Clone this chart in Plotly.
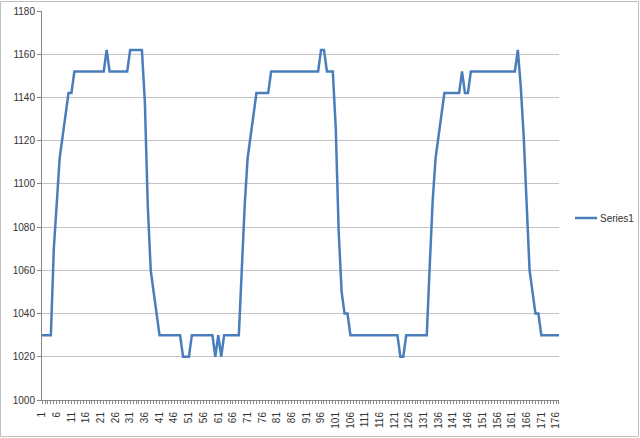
import plotly.graph_objects as go

categories = list(range(1, 178))

series1 = [
    1030, 1030, 1030, 1030, 1070, 1092, 1112, 1122, 1132, 1142,
    1142, 1152, 1152, 1152, 1152, 1152, 1152, 1152, 1152, 1152,
    1152, 1152, 1162, 1152, 1152, 1152, 1152, 1152, 1152, 1152,
    1162, 1162, 1162, 1162, 1162, 1138, 1090, 1060, 1050, 1040,
    1030, 1030, 1030, 1030, 1030, 1030, 1030, 1030, 1020, 1020,
    1020, 1030, 1030, 1030, 1030, 1030, 1030, 1030, 1030, 1020,
    1030, 1020, 1030, 1030, 1030, 1030, 1030, 1030, 1060, 1090,
    1112, 1122, 1132, 1142, 1142, 1142, 1142, 1142, 1152, 1152,
    1152, 1152, 1152, 1152, 1152, 1152, 1152, 1152, 1152, 1152,
    1152, 1152, 1152, 1152, 1152, 1162, 1162, 1152, 1152, 1152,
    1126, 1078, 1050, 1040, 1040, 1030, 1030, 1030, 1030, 1030,
    1030, 1030, 1030, 1030, 1030, 1030, 1030, 1030, 1030, 1030,
    1030, 1030, 1020, 1020, 1030, 1030, 1030, 1030, 1030, 1030,
    1030, 1030, 1062, 1092, 1112, 1122, 1132, 1142, 1142, 1142,
    1142, 1142, 1142, 1152, 1142, 1142, 1152, 1152, 1152, 1152,
    1152, 1152, 1152, 1152, 1152, 1152, 1152, 1152, 1152, 1152,
    1152, 1152, 1162, 1145, 1122, 1087, 1060, 1050, 1040, 1040,
    1030, 1030, 1030, 1030, 1030, 1030, 1030,
]

series_name = "Series1"

x_tick_vals = [1, 6, 11, 16, 21, 26, 31, 36, 41, 46, 51, 56, 61, 66, 71, 76,
               81, 86, 91, 96, 101, 106, 111, 116, 121, 126, 131, 136, 141,
               146, 151, 156, 161, 166, 171, 176]
y_tick_vals = [1000, 1020, 1040, 1060, 1080, 1100, 1120, 1140, 1160, 1180]

font_family = "Liberation Sans, Arial, sans-serif"
line_color = "#4A7EBB"

# plot area in pixels: left 42, right 559, top 11, bottom 400
PL, PR, PT, PB = 42, 559, 11, 400
PW, PH = PR - PL, PB - PT


def px(x):
    return (x - PL) / PW


def py(y):
    return (PB - y) / PH


fig = go.Figure()
fig.add_trace(go.Scatter(
    x=categories, y=series1, mode="lines", name=series_name,
    line=dict(color=line_color, width=2.5), showlegend=False,
    hoverinfo="skip",
))

fig.update_layout(
    width=640, height=438,
    margin=dict(l=PL, r=640 - PR, t=PT, b=438 - PB),
    paper_bgcolor="white", plot_bgcolor="white",
    font=dict(family=font_family, size=10, color="#333333"),
    showlegend=False,
    xaxis=dict(
        range=[0.98, 177.02], tickmode="array", tickvals=x_tick_vals,
        ticktext=[str(v) for v in x_tick_vals], tickangle=-90,
        showgrid=False, zeroline=False, showline=True, linecolor="#868686",
        linewidth=1, ticks="outside", ticklen=3, tickcolor="#868686",
        minor=dict(dtick=1, tick0=1, ticks="outside", ticklen=3,
                   tickcolor="#868686", showgrid=False),
        tickfont=dict(size=10, color="#333333"), automargin=False,
        ticklabelstandoff=4,
    ),
    yaxis=dict(
        range=[1000, 1180], tickmode="array", tickvals=y_tick_vals,
        showgrid=True, gridcolor="#c4c4c4", gridwidth=1, zeroline=False,
        showline=True, linecolor="#868686", linewidth=1,
        ticks="outside", ticklen=4, tickcolor="#868686",
        tickfont=dict(size=10, color="#333333"), automargin=False,
    ),
    shapes=[
        dict(type="rect", xref="paper", yref="paper",
             x0=px(0.5), x1=px(638.5), y0=py(436.5), y1=py(1.5),
             line=dict(color="#bfbfbf", width=1), layer="below"),
        dict(type="line", xref="paper", yref="paper",
             x0=px(575), x1=px(597), y0=py(218), y1=py(218),
             line=dict(color=line_color, width=2.5)),
    ],
    annotations=[
        dict(text=series_name, xref="paper", yref="paper",
             x=px(598), y=py(218), xanchor="left", yanchor="middle",
             showarrow=False, font=dict(size=10, color="#333333")),
    ],
)

fig.write_html(
    "out.html",
    config={"displayModeBar": False, "staticPlot": True},
    post_script="document.body.style.margin='0';document.body.style.overflow='hidden';",
)
